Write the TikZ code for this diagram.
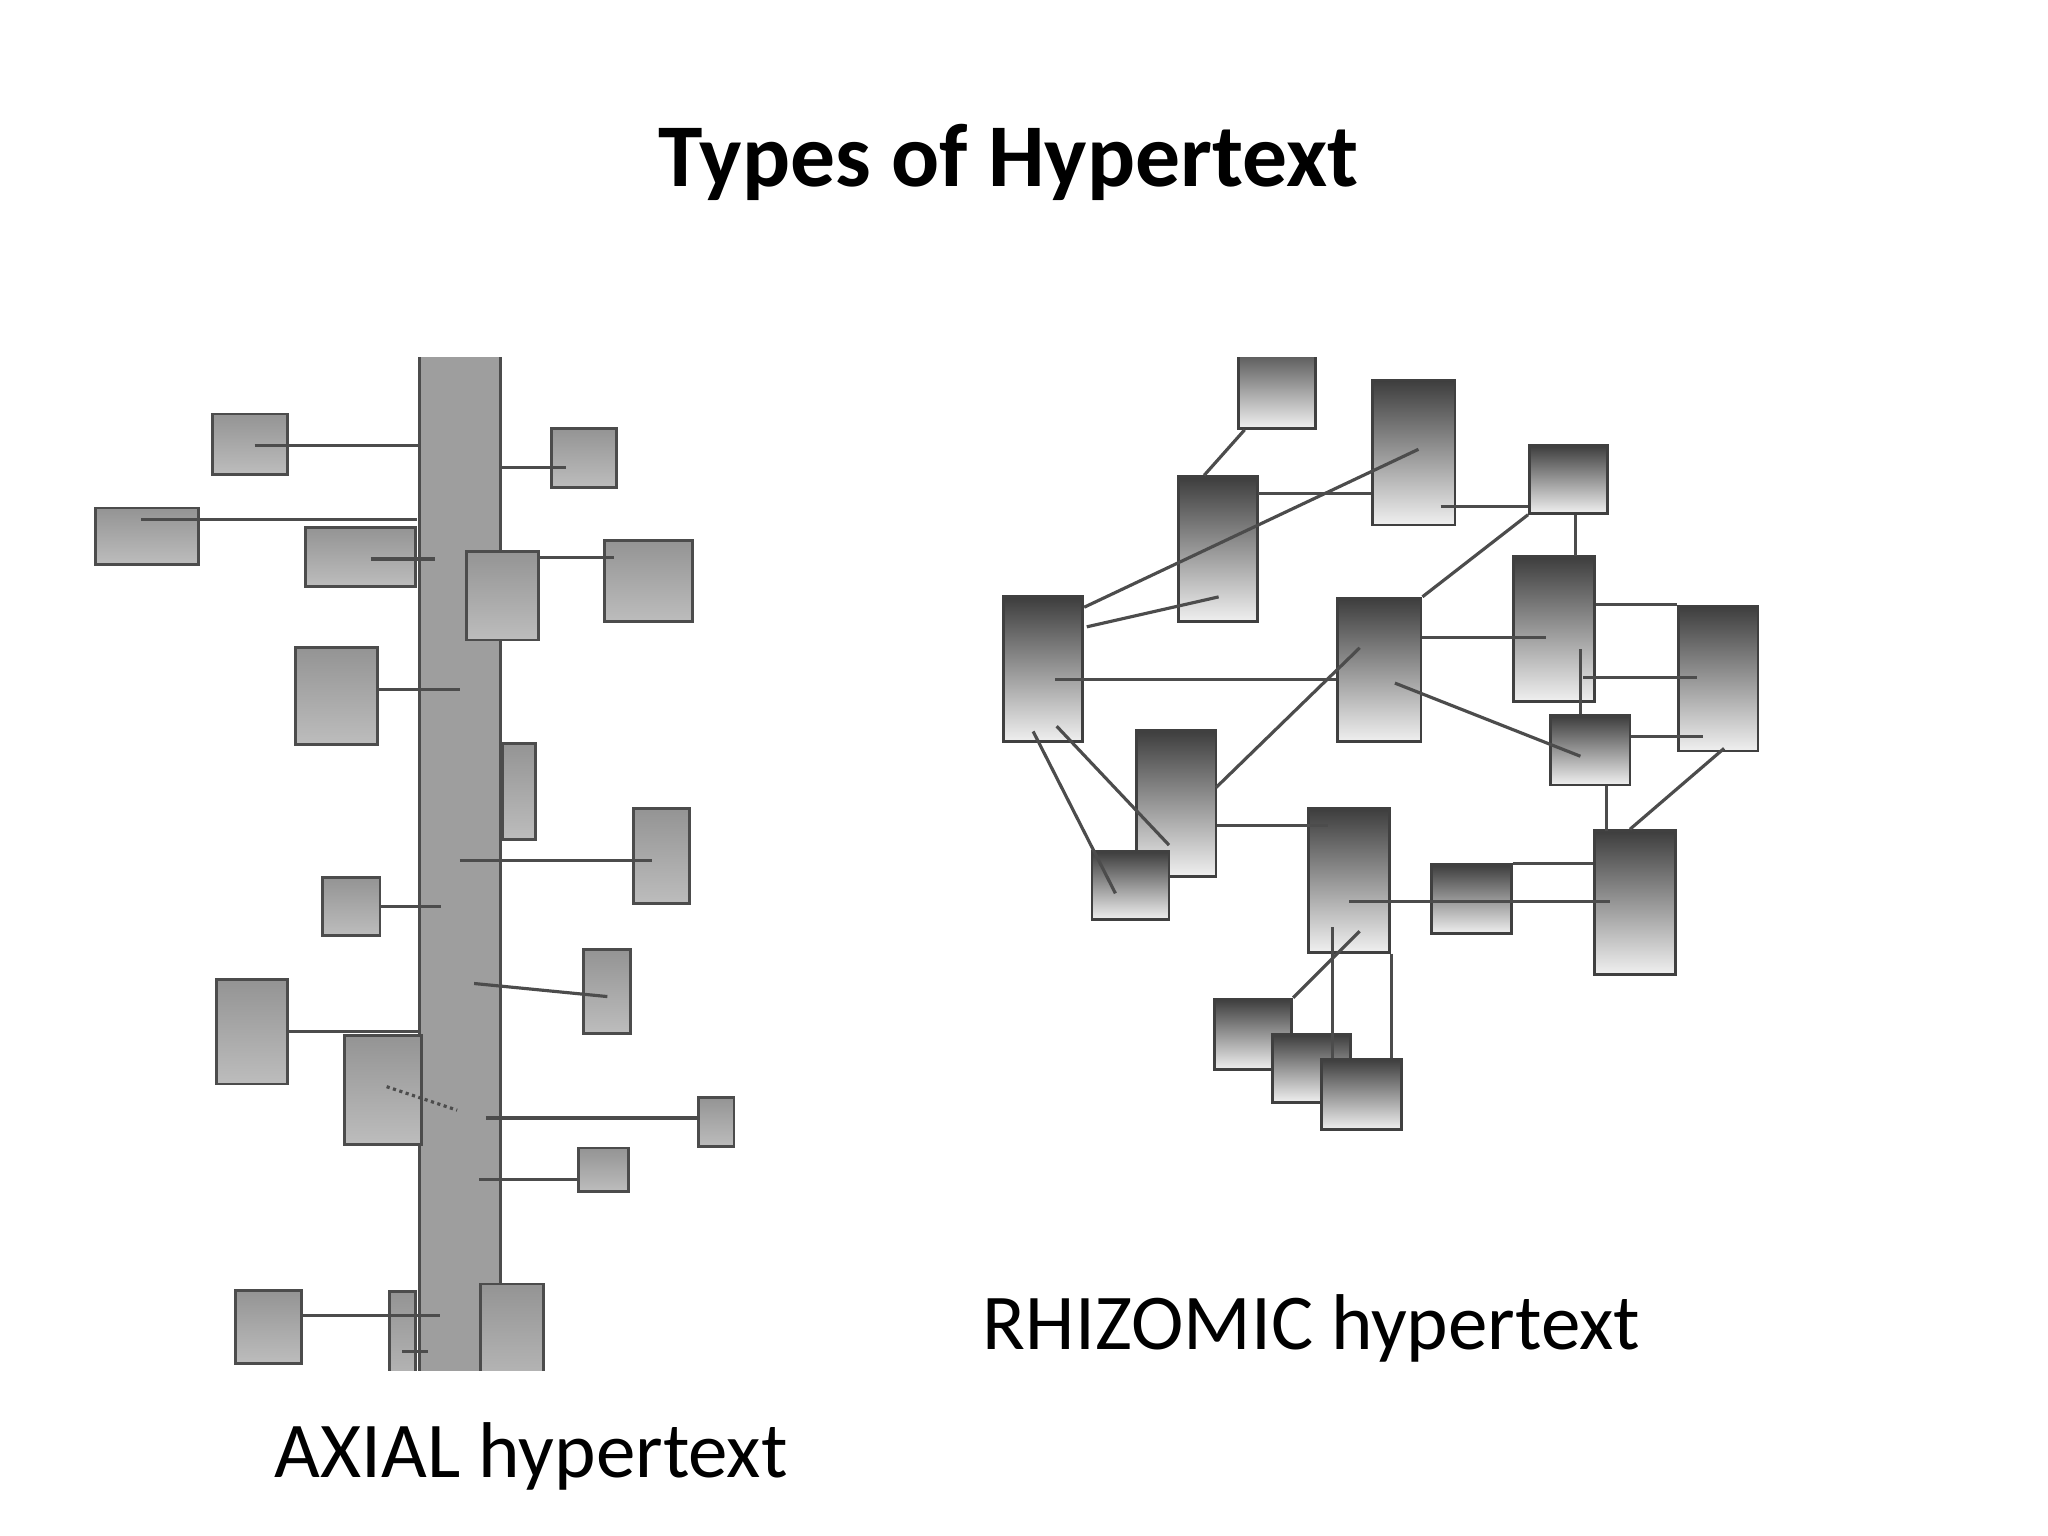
\documentclass[tikz,border=0pt]{standalone}
\usepackage{fontspec}
\setmainfont{Carlito}
\usetikzlibrary{fit,calc}

\tikzset{
  abox/.style={draw=black!70, line width=0.8pt, inner sep=0pt, top color=black!42, bottom color=black!26},
  spinebox/.style={draw=black!70, line width=0.8pt, inner sep=0pt, fill=black!38},
  rbox/.style={draw=black!75, line width=0.8pt, inner sep=0pt, top color=black!76, bottom color=black!6},
  link/.style={draw=black!70, line width=0.9pt},
  lbl/.style={anchor=base west, inner sep=0pt, font=\fontsize{22.5}{27}\selectfont},
}

\begin{document}
\begin{tikzpicture}[x=0.013061cm, y=-0.013061cm]
\useasboundingbox (0,0) rectangle (1568,1176);

\node[anchor=base, inner sep=0pt, font=\bfseries\fontsize{25.5}{30}\selectfont] (title) at (772,143) {Types of Hypertext};

\begin{scope}
\clip (0,274) rectangle (1568,1049);

% axial: spine and side boxes
\node[spinebox, fit={(321,260) (383,1070)}] (spine) {};
\node[abox, fit={(163,317) (220,363)}] (a1) {};
\node[abox, fit={(422,328) (472,373)}] (a2) {};
\node[abox, fit={(73,389) (152,432)}] (a3) {};
\node[abox, fit={(234,404) (318,449)}] (a4) {};
\node[abox, fit={(357,422) (412,490)}] (a5) {};
\node[abox, fit={(463,414) (530,476)}] (a6) {};
\node[abox, fit={(226,496) (289,570)}] (a7) {};
\node[abox, fit={(385,569) (410,643)}] (a8) {};
\node[abox, fit={(485,619) (528,692)}] (a9) {};
\node[abox, fit={(247,672) (291,716)}] (a10) {};
\node[abox, fit={(447,727) (483,791)}] (a11) {};
\node[abox, fit={(166,750) (220,830)}] (a12) {};
\node[abox, fit={(264,793) (323,876)}] (a13) {};
\node[abox, fit={(535,840) (562,878)}] (a14) {};
\node[abox, fit={(443,879) (481,912)}] (a15) {};
\node[abox, fit={(180,988) (231,1044)}] (a16) {};
\node[abox, fit={(298,989) (318,1070)}] (a17) {};
\node[abox, fit={(368,983) (416,1070)}] (a18) {};

\coordinate (a1c) at (195,341);
\coordinate (a2c) at (433,358);
\coordinate (a3c) at (108,398);
\coordinate (a4c) at (284,428);
\coordinate (s4) at (333,428);
\coordinate (a6c) at (470,427);
\coordinate (s7) at (352,528);
\coordinate (s9) at (352,659);
\coordinate (a9c) at (499,659);
\coordinate (s10) at (338,694);
\coordinate (s11) at (363,753);
\coordinate (a11c) at (465,763);
\coordinate (a13c) at (296,832);
\coordinate (s13) at (350,850);
\coordinate (s14) at (372,856);
\coordinate (s15) at (367,903);
\coordinate (s16) at (337,1007);
\coordinate (s17) at (328,1035);

\path[link]
  (a1c) edge (a1c -| spine.west)
  (a2c -| spine.east) edge (a2c)
  (a3c) edge (a3c -| a4.east)
  (a4c) edge (s4)
  (a6c -| a5.east) edge (a6c)
  (a7.east |- s7) edge (s7)
  (s9) edge (a9c)
  (a10.east |- s10) edge (s10)
  (s11) edge (a11c)
  (a12.east) edge (a12.east -| spine.west)
  (s14) edge (s14 -| a14.west)
  (s15) edge (s15 -| a15.west)
  (a16.east |- s16) edge (s16)
  (s17 -| a17.center) edge (s17);
\draw[link, densely dotted] (a13c) -- (s13);

% rhizomic: boxes
\node[rbox, fit={(948,260) (1007,328)}] (r1) {};
\node[rbox, fit={(1051,291) (1114,402)}] (r2) {};
\node[rbox, fit={(1171,341) (1231,393)}] (r3) {};
\node[rbox, fit={(902,365) (963,476)}] (r4) {};
\node[rbox, fit={(768,457) (829,568)}] (r5) {};
\node[rbox, fit={(1024,458) (1088,568)}] (r6) {};
\node[rbox, fit={(1159,426) (1221,537)}] (r7) {};
\node[rbox, fit={(1285,464) (1346,575)}] (r8) {};
\node[rbox, fit={(1187,548) (1248,601)}] (r9) {};
\node[rbox, fit={(870,559) (931,671)}] (r10) {};
\node[rbox, fit={(836,652) (895,704)}] (r11) {};
\node[rbox, fit={(1002,619) (1064,729)}] (r12) {};
\node[rbox, fit={(1096,662) (1157,715)}] (r13) {};
\node[rbox, fit={(1221,636) (1283,746)}] (r14) {};
\node[rbox, fit={(930,765) (989,819)}] (r15) {};
\node[rbox, fit={(974,792) (1034,844)}] (r16) {};
\node[rbox, fit={(1012,811) (1073,865)}] (r17) {};

\coordinate (r2a) at (1086,344);
\coordinate (r2b) at (1103,388);
\coordinate (r4a) at (933,457);
\coordinate (r4b) at (963,378);
\coordinate (r5a) at (808,520);
\coordinate (r5b) at (791,560);
\coordinate (r5c) at (809,556);
\coordinate (r6a) at (1068,523);
\coordinate (r6b) at (1041,496);
\coordinate (r7a) at (1184,488);
\coordinate (r7b) at (1212,519);
\coordinate (r7c) at (1210,497);
\coordinate (r7d) at (1206,426);
\coordinate (r8a) at (1299,519);
\coordinate (r8b) at (1304,564);
\coordinate (r8c) at (1320,573);
\coordinate (r9a) at (1210,579);
\coordinate (r10a) at (931,603);
\coordinate (r11a) at (854,684);
\coordinate (r11b) at (895,647);
\coordinate (r12a) at (1017,632);
\coordinate (r12b) at (1033,690);
\coordinate (r12c) at (1041,713);
\coordinate (r12d) at (1020,710);
\coordinate (r14a) at (1233,690);
\coordinate (r14b) at (1230,636);

\path[link]
  ($(r1.south west)+(6,0)$) edge ($(r4.north west)+(21,0)$)
  (r4b) edge (r4b -| r2.west)
  ($(r5.north east)+(0,9)$) edge (r2a)
  ($(r5.north east)+(2,24)$) edge (r4a)
  (r2b) edge (r2b -| r3.west)
  (r3.south west) edge (r6.north east)
  (r7d |- r3.south) edge (r7d)
  (r5a) edge (r5a -| r6.west)
  (r7a -| r6.east) edge (r7a)
  (r7.north east |- r8.north west) edge (r8.north west)
  (r7b) edge (r8a)
  (r7c) edge (r7c |- r9.north)
  (r6a) edge (r9a)
  (r9.east |- r8b) edge (r8b)
  (r14b |- r9.south) edge (r14b)
  (r8c) edge ($(r14.north west)+(28,0)$)
  (r10a) edge (r6b)
  (r5b) edge (r11a)
  (r5c) edge (r11b)
  (r10.east |- r12a) edge (r12a)
  (r13.north east) edge (r13.north east -| r14.west)
  (r12b) edge (r14a)
  (r12c) edge (r15.north east)
  (r12d) edge (r12d |- r17.north)
  (r12.south east) edge (r12.south east |- r17.north);
\end{scope}

\node[lbl] (axial) at (210,1131) {AXIAL hypertext};
\node[lbl] (rhizomic) at (752,1033) {RHIZOMIC hypertext};
\end{tikzpicture}
\end{document}
